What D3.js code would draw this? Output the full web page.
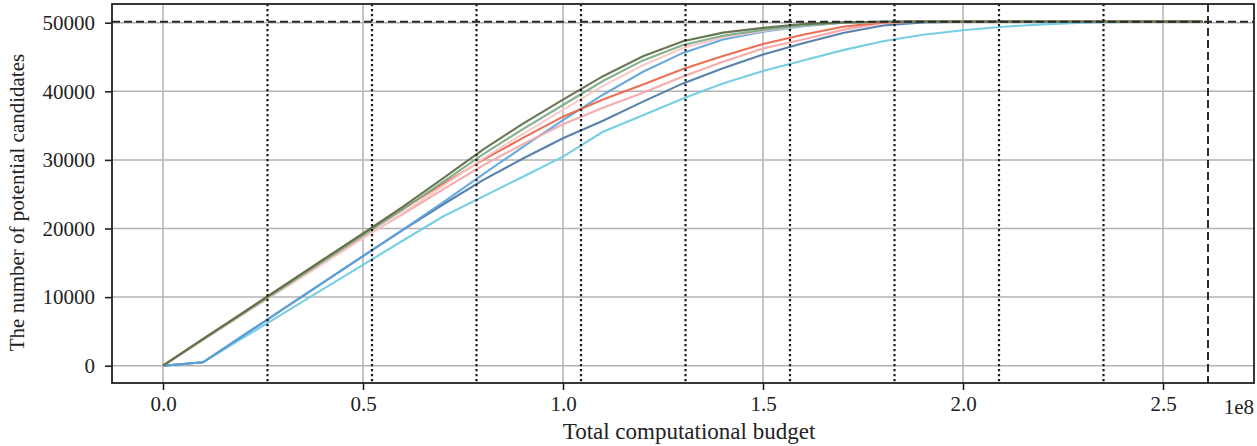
<!DOCTYPE html>
<html>
<head>
<meta charset="utf-8">
<script src="https://cdn.jsdelivr.net/npm/d3@7"></script>
<style>
  body { margin: 0; background: #fff; }
  svg text { font-family: "Liberation Serif", "DejaVu Serif", serif; fill: #222; }
</style>
</head>
<body>
<svg id="chart" width="1257" height="446"></svg>
<script>
// budget steps, in units of 1e7
const BUDGET = [0, 1, 2, 3, 4, 5, 6, 7, 8, 9, 10, 11, 12, 13, 14, 15, 16, 17, 18, 19, 20, 21, 22, 23, 24, 25, 26]

const olive     = [0, 3900, 7750, 11600, 15450, 19300, 23200, 27300, 31500, 35300, 38800, 42200, 45100, 47300, 48550, 49250, 49800, 50050, 50130, 50150, 50150, 50150, 50150, 50150, 50150, 50150, 50150]
const green     = [0, 3800, 7600, 11400, 15200, 19000, 22800, 26800, 30800, 34500, 38000, 41500, 44500, 46750, 48100, 48950, 49650, 50000, 50120, 50150, 50150, 50150, 50150, 50150, 50150, 50150, 50150]
const lightPink = [0, 3750, 7450, 11150, 14850, 18550, 22300, 26200, 30200, 33800, 37300, 40800, 43800, 46300, 47850, 48800, 49600, 50000, 50120, 50150, 50150, 50150, 50150, 50150, 50150, 50150, 50150]
const red       = [0, 3850, 7700, 11550, 15400, 19200, 22900, 26500, 30000, 33200, 36300, 38800, 41000, 43250, 45150, 46900, 48250, 49400, 50050, 50150, 50150, 50150, 50150, 50150, 50150, 50150, 50150]
const pink      = [0, 3800, 7550, 11300, 15000, 18700, 22100, 25700, 29200, 32300, 35200, 37600, 39800, 42150, 44300, 46250, 47550, 48950, 49950, 50130, 50150, 50150, 50150, 50150, 50150, 50150, 50150]
const blue      = [0, 500, 4370, 8240, 12110, 15980, 19850, 23800, 27900, 31900, 35800, 39500, 42850, 45600, 47550, 48700, 49480, 50000, 50130, 50150, 50150, 50150, 50150, 50150, 50150, 50150, 50150]
const darkBlue  = [0, 500, 4370, 8240, 12110, 15980, 19800, 23500, 27050, 30200, 33150, 35700, 38500, 41150, 43350, 45350, 47000, 48500, 49600, 50050, 50150, 50150, 50150, 50150, 50150, 50150, 50150]
const cyan      = [0, 500, 4050, 7600, 11150, 14700, 18250, 21750, 24650, 27550, 30470, 34100, 36500, 38950, 41150, 42950, 44500, 46000, 47300, 48250, 48900, 49400, 49750, 50000, 50100, 50150, 50150]

const SERIES = [
  {values: cyan, color: '#6ccae2'},
  {values: darkBlue, color: '#4a77a6'},
  {values: blue, color: '#5ba3dc'},
  {values: pink, color: '#f5a5a5'},
  {values: red, color: '#ec6446'},
  {values: lightPink, color: '#f8c6c6'},
  {values: green, color: '#7aaa86'},
  {values: olive, color: '#5b6d45'}
]

const TOTAL = 50150          // total number of candidates (dashed horizontal)
const FULL_BUDGET = 2.6125e8 // full budget (dashed vertical)
const X_TICKS = [0, 0.5e8, 1e8, 1.5e8, 2e8, 2.5e8]
const Y_TICKS = [0, 10000, 20000, 30000, 40000, 50000]

function drawChart() {
  const svg = d3.select('#chart');
  const left = 112, right = 1254, top = 4, bottom = 383;

  const x = d3.scaleLinear().domain([-0.1275e8, 2.7275e8]).range([left, right]);
  const y = d3.scaleLinear().domain([-2520, 52725]).range([bottom, top]);

  // grid
  const grid = svg.append('g').attr('stroke', '#b3b3b3').attr('stroke-width', 1.5);
  grid.selectAll('.gx').data(X_TICKS).join('line')
      .attr('x1', d => x(d)).attr('x2', d => x(d)).attr('y1', top).attr('y2', bottom);
  grid.selectAll('.gy').data(Y_TICKS).join('line')
      .attr('x1', left).attr('x2', right).attr('y1', d => y(d)).attr('y2', d => y(d));

  // curves
  const line = d3.line().x((d, i) => x(BUDGET[i] * 1e7)).y(d => y(d));
  svg.append('g').selectAll('path').data(SERIES).join('path')
     .attr('d', d => line(d.values))
     .attr('fill', 'none')
     .attr('stroke', d => d.color)
     .attr('stroke-width', 2.1)
     .attr('stroke-opacity', 0.92);

  // budget fractions (dotted) and full budget (dashed)
  const fractions = [1, 2, 3, 4, 5, 6, 7, 8, 9].map(k => FULL_BUDGET * k / 10);
  svg.append('g').selectAll('line').data(fractions).join('line')
     .attr('x1', d => x(d)).attr('x2', d => x(d)).attr('y1', top).attr('y2', bottom)
     .attr('stroke', '#1a1a1a').attr('stroke-width', 2.2).attr('stroke-dasharray', '2.2,2.8');
  svg.append('line')
     .attr('x1', x(FULL_BUDGET)).attr('x2', x(FULL_BUDGET)).attr('y1', top).attr('y2', bottom)
     .attr('stroke', '#2a2a2a').attr('stroke-width', 2).attr('stroke-dasharray', '8,4');
  svg.append('line')
     .attr('x1', left).attr('x2', right).attr('y1', y(TOTAL)).attr('y2', y(TOTAL))
     .attr('stroke', '#2a2a2a').attr('stroke-width', 2).attr('stroke-dasharray', '8,4');

  // axes
  const xAxis = d3.axisBottom(x).tickValues(X_TICKS).tickSize(7).tickPadding(6)
                  .tickFormat(d => (d / 1e8).toFixed(1));
  const yAxis = d3.axisLeft(y).tickValues(Y_TICKS).tickSize(7).tickPadding(10)
                  .tickFormat(d3.format('d'));
  const gx = svg.append('g').attr('transform', `translate(0,${bottom})`).call(xAxis);
  const gy = svg.append('g').attr('transform', `translate(${left},0)`).call(yAxis);
  [gx, gy].forEach(g => {
    g.select('.domain').remove();
    g.selectAll('line').attr('stroke', '#222').attr('stroke-width', 1.6);
    g.selectAll('text').attr('font-size', 21).attr('fill', '#222')
     .attr('font-family', '"Liberation Serif", serif');
  });

  svg.append('rect')
     .attr('x', left).attr('y', top).attr('width', right - left).attr('height', bottom - top)
     .attr('fill', 'none').attr('stroke', '#222').attr('stroke-width', 1.8);

  svg.append('text').attr('x', right).attr('y', 414).attr('text-anchor', 'end')
     .attr('font-size', 21).text('1e8');
  svg.append('text').attr('x', (left + right) / 2 + 6).attr('y', 439).attr('text-anchor', 'middle')
     .attr('font-size', 23).text('Total computational budget');
  svg.append('text')
     .attr('transform', `translate(24,${(top + bottom) / 2 + 9}) rotate(-90)`)
     .attr('text-anchor', 'middle').attr('font-size', 21)
     .text('The number of potential candidates');
}

drawChart();
</script>
</body>
</html>
